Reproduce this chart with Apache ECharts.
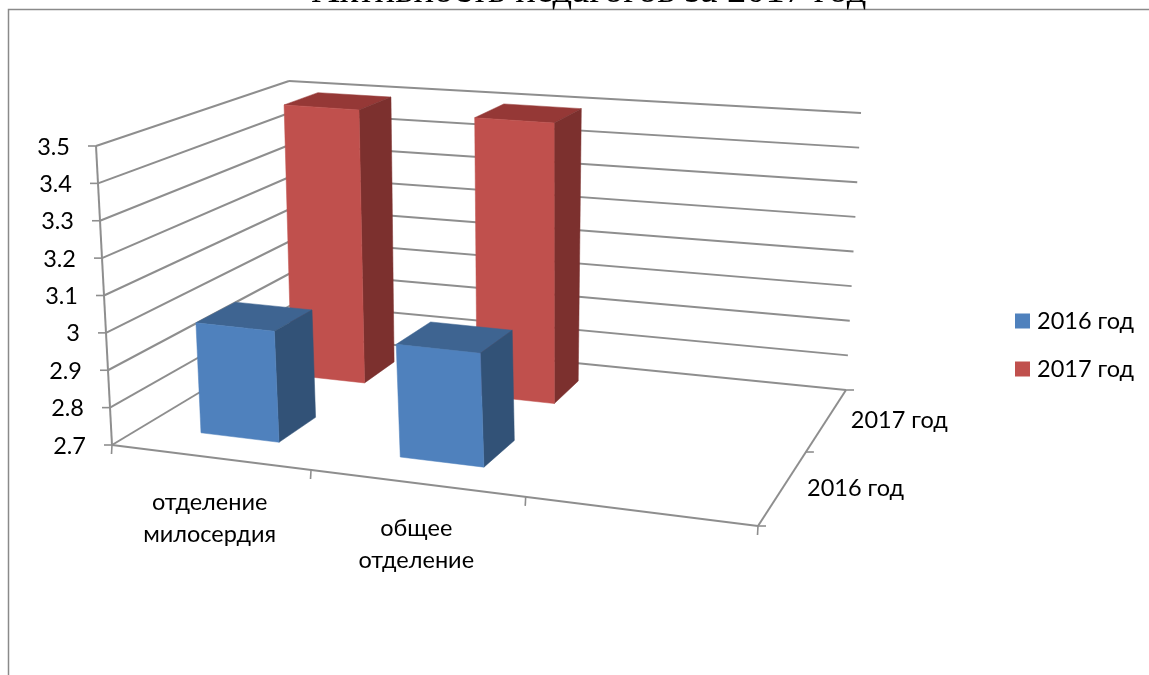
<!DOCTYPE html>
<html>
<head>
<meta charset="utf-8">
<style>html,body{margin:0;padding:0;background:#fff}#c{width:1149px;height:675px}</style>
<script src="https://cdn.jsdelivr.net/npm/echarts@6/dist/echarts.min.js"></script>
</head>
<body>
<div id="c"></div>
<script>
const titleText = 'Активность педагогов за 2017 год';
const categories = ['отделение\nмилосердия', 'общее\nотделение', ''];
const rowLabels = ['2016 год', '2017 год'];
const valueTicks = [2.7, 2.8, 2.9, 3, 3.1, 3.2, 3.3, 3.4, 3.5];
const values2016 = [3, 3, null];
const values2017 = [3.5, 3.5, null];

const FONT = 'Lato, "Open Sans", sans-serif';
const FONT_SIZE = 23.5;
const AXIS = '#8e8e8e';
const BLUE = {front: '#4F81BD', side: '#325277', top: '#3E6491'};
const RED = {front: '#C0504D', side: '#7C302E', top: '#953836'};
const BAR_RATIO = 0.4;

// Camera: where the eight corners of the 3D plot box land on the page
const box = {
  flb: [112, 445], frb: [758, 526], blb: [295, 335], brb: [846, 390],
  flt: [96, 146], frt: [748, 204], blt: [289, 81], brt: [861, 113]
};
const persp = (t, k) => t / (t + k * (1 - t));
const mix = (a, b, t) => [a[0] + (b[0] - a[0]) * t, a[1] + (b[1] - a[1]) * t];
function project(u, v, w) {
  const V = persp(v, 0.838);
  const U = persp(u, 1.123 - 0.03 * Math.min(1, V * 2));
  const bottom = mix(mix(box.flb, box.frb, U), mix(box.blb, box.brb, U), V);
  const top = mix(mix(box.flt, box.frt, U), mix(box.blt, box.brt, U), V);
  return mix(bottom, top, w);
}
function toBox(api, params, cat, value) {
  const p = api.coord([cat, value]);
  const c = params.coordSys;
  return {u: (p[0] - c.x) / c.width, w: (c.y + c.height - p[1]) / c.height, bandU: api.size([1, 0])[0] / c.width};
}
const lineEl = (a, b, width) => ({
  type: 'line',
  shape: {x1: a[0], y1: a[1], x2: b[0], y2: b[1]},
  style: {stroke: AXIS, lineWidth: width || 2}
});
const poly = (pts, fill) => ({type: 'polygon', shape: {points: pts}, style: {fill: fill, stroke: fill, lineWidth: 0.5}});
const textEl = (x, y, text, align, vAlign) => ({
  type: 'text',
  style: {x: x, y: y, text: text, fill: '#000', font: FONT_SIZE + 'px ' + FONT, align: align, verticalAlign: vAlign || 'middle', lineHeight: 32}
});

function barRenderer(row, colors) {
  return function (params, api) {
    const cat = api.value(0), value = api.value(1);
    if (value == null || isNaN(value)) return null;
    const b = toBox(api, params, cat, value);
    const halfU = b.bandU * BAR_RATIO / 2;
    const u0 = b.u - halfU, u1 = b.u + halfU;
    const rowH = 1 / rowLabels.length;
    const v0 = (row + (1 - BAR_RATIO) / 2) * rowH, v1 = v0 + BAR_RATIO * rowH;
    const P = (u, v, w) => project(u, v, w);
    return {type: 'group', children: [
      poly([P(u0, v0, b.w), P(u1, v0, b.w), P(u1, v1, b.w), P(u0, v1, b.w)], colors.top),
      poly([P(u1, v0, 0), P(u1, v1, 0), P(u1, v1, b.w), P(u1, v0, b.w)], colors.side),
      poly([P(u0, v0, 0), P(u1, v0, 0), P(u1, v0, b.w), P(u0, v0, b.w)], colors.front)
    ]};
  };
}

function wallRenderer(params, api) {
  const t = api.value(0);
  const w = toBox(api, params, 0, t).w;
  const corner = project(0, 1, w), fl = project(0, 0, w), br = project(1, 1, w);
  const children = [
    lineEl(fl, corner), lineEl(corner, br),
    lineEl(fl, [fl[0] - 8, fl[1]], 1.6),
    textEl(fl[0] - 26, fl[1] + 1, String(t), 'right')
  ];
  return {type: 'group', children: children};
}

function frameRenderer(params, api) {
  const ch = [];
  ch.push(lineEl(project(0, 0, 0), project(0, 0, 1)));
  ch.push(lineEl(project(0, 0, 0), project(1, 0, 0)));
  ch.push(lineEl(project(1, 0, 0), project(1, 1, 0)));
  const n = categories.length, m = rowLabels.length;
  for (let i = 0; i <= n; i++) {
    const p = project(i / n, 0, 0);
    ch.push(lineEl(p, [p[0] - 0.5, p[1] + 9], 1.6));
  }
  for (let j = 0; j <= m; j++) {
    const p = project(1, j / m, 0);
    ch.push(lineEl(p, [p[0] + 8, p[1]], 1.6));
  }
  categories.forEach((c, i) => {
    if (!c) return;
    const p = project((i + 0.5) / n, 0, 0);
    ch.push(textEl(p[0], p[1] + 61, c, 'center'));
  });
  rowLabels.forEach((r, j) => {
    const p = project(1, (j + 0.5) / m, 0);
    ch.push(textEl(p[0] + 24, p[1] + 1, r, 'left'));
  });
  return {type: 'group', children: ch};
}

const chart = echarts.init(document.getElementById('c'), null, {renderer: 'canvas'});
chart.setOption({
  animation: false,
  backgroundColor: '#fff',
  title: {
    text: titleText, left: 584, top: -33, textAlign: 'center',
    textStyle: {fontFamily: '"Liberation Serif", serif', fontSize: 38.5, fontWeight: 'normal', color: '#000'}
  },
  grid: {left: box.flb[0], top: box.flt[1], width: box.frb[0] - box.flb[0], height: box.flb[1] - box.flt[1]},
  xAxis: {type: 'category', data: categories, show: false},
  yAxis: {type: 'value', min: 2.7, max: 3.5, interval: 0.1, show: false},
  legend: {
    orient: 'vertical', left: 1010, top: 304, itemWidth: 15, itemHeight: 15, itemGap: 24, icon: 'rect',
    data: ['2016 год', '2017 год'],
    textStyle: {fontFamily: FONT, fontSize: FONT_SIZE, color: '#000', padding: [0, 0, 0, 2]},
    selectedMode: false
  },
  graphic: [{
    type: 'polyline', silent: true,
    shape: {points: [[8.5, 675], [8.5, 9.5], [1149, 9.5]]},
    style: {stroke: '#8a8a8a', lineWidth: 1.5, fill: 'none'}
  }],
  series: [
    {type: 'custom', name: 'walls', silent: true, data: valueTicks.map(t => [t]), encode: {y: 0}, renderItem: wallRenderer, clip: false},
    {type: 'custom', name: 'frame', silent: true, data: [[0]], renderItem: frameRenderer, clip: false},
    {type: 'custom', name: '2017 год', silent: true, itemStyle: {color: RED.front}, data: values2017.map((v, i) => [i, v]), encode: {x: 0, y: 1}, renderItem: barRenderer(1, RED), clip: false},
    {type: 'custom', name: '2016 год', silent: true, itemStyle: {color: BLUE.front}, data: values2016.map((v, i) => [i, v]), encode: {x: 0, y: 1}, renderItem: barRenderer(0, BLUE), clip: false}
  ]
});
</script>
</body>
</html>
